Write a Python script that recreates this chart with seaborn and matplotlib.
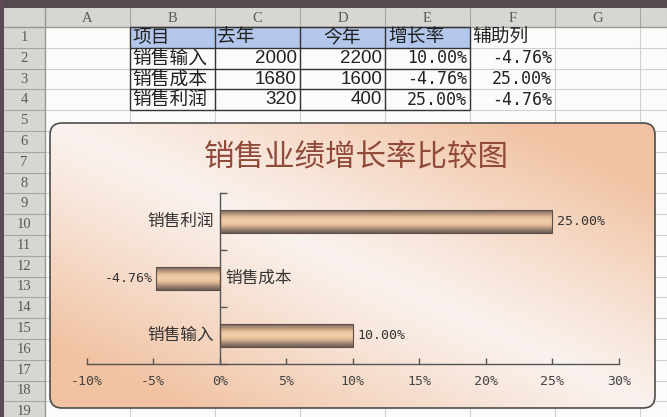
import numpy as np
import matplotlib
matplotlib.use("Agg")
import matplotlib.pyplot as plt
from matplotlib.patches import Rectangle, FancyBboxPatch
from matplotlib.colors import LinearSegmentedColormap, to_rgb
import seaborn as sns

# ── Sheet data ─────────────────────────────────────────────────────────────
col_letters = ["A", "B", "C", "D", "E", "F", "G"]
headers = ["项目", "去年", "今年", "增长率", "辅助列"]
items = ["销售输入", "销售成本", "销售利润"]
last_year = [2000, 1680, 320]
this_year = [2200, 1600, 400]
growth = [10.00, -4.76, 25.00]
helper = [-4.76, 25.00, -4.76]
x_ticks = [-10, -5, 0, 5, 10, 15, 20, 25, 30]
title = "销售业绩增长率比较图"

MONO = ["DejaVu Sans Mono"]
SERIF = ["Liberation Serif"]

sns.set_theme(style="white")
plt.rcParams["font.family"] = ["Noto Sans CJK SC", "DejaVu Sans"]

W, H = 667, 417
fig = plt.figure(figsize=(W / 100, H / 100), dpi=100)
fig.patch.set_facecolor("white")

# ── Spreadsheet background (pixel coordinates) ─────────────────────────────
bg = fig.add_axes([0, 0, 1, 1])
bg.axis("off")

col_edges = [45, 130, 215, 300, 385, 470, 555, 640]
row_top, row_h, n_rows = 27, 20.8, 19
row_edges = [row_top + row_h * k for k in range(n_rows + 1)]

bg.add_patch(Rectangle((45, row_top), W - 45, H - row_top, fc="#fbfbfa", ec="none"))
for x in col_edges[1:] + [W]:
    bg.vlines(x, row_top, H, color="#d0d0d0", lw=0.8)
for y in row_edges[1:]:
    bg.hlines(y, 45, W, color="#d0d0d0", lw=0.8)

# headers
bg.add_patch(Rectangle((4, 8), W - 4, row_top - 8, fc="#d8d6d2", ec="none"))
bg.add_patch(Rectangle((4, row_top), 41, H - row_top, fc="#d8d6d2", ec="none"))
for x in col_edges + [W]:
    bg.vlines(x, 8, row_top, color="#a6a4a0", lw=0.8)
for y in row_edges:
    bg.hlines(y, 4, 45, color="#a6a4a0", lw=0.8)
bg.hlines(row_top, 4, W, color="#9a9894", lw=1)
bg.vlines(45, 8, H, color="#9a9894", lw=1)
for i, letter in enumerate(col_letters):
    bg.text((col_edges[i] + col_edges[i + 1]) / 2, 18, letter, ha="center",
            va="center", fontsize=10.5, family=SERIF, color="#5a5a5a")
for r in range(n_rows):
    bg.text(24, row_top + row_h * (r + 0.5), str(r + 1), ha="center",
            va="center", fontsize=10.5, family=SERIF, color="#5a5a5a")

# dark window strips
bg.add_patch(Rectangle((0, 0), W, 8, fc="#544a50", ec="none"))
bg.add_patch(Rectangle((0, 0), 4, H, fc="#5d4956", ec="none"))

# table B1:F4
bg.add_patch(Rectangle((130, row_top), 340, row_h, fc="#b3c7ec", ec="none"))
ry = lambda r: row_top + row_h * (r + 0.5)
head_pos = [(132, "left"), (217, "left"), (342, "center"), (388, "left"), (472, "left")]
for (hx, ha), txt in zip(head_pos, headers):
    bg.text(hx, ry(0), txt, ha=ha, va="center", fontsize=13.5, color="#222")
for r, (name, a, b, g, hp) in enumerate(zip(items, last_year, this_year, growth, helper), start=1):
    bg.text(132, ry(r), name, ha="left", va="center", fontsize=13.5, color="#222")
    bg.text(297, ry(r), f"{a}", ha="right", va="center", fontsize=13.5,
            family=["Liberation Sans"], color="#222")
    bg.text(382, ry(r), f"{b}", ha="right", va="center", fontsize=13.5,
            family=["Liberation Sans"], color="#222")
    bg.text(467, ry(r), f"{g:.2f}%", ha="right", va="center", fontsize=12,
            family=MONO, color="#222")
    bg.text(552, ry(r), f"{hp:.2f}%", ha="right", va="center", fontsize=12,
            family=MONO, color="#222")
for x in [130, 215, 300, 385, 470]:
    bg.vlines(x, row_top, row_top + 4 * row_h, color="#333", lw=1)
for y in row_edges[:5]:
    bg.hlines(y, 130, 470, color="#333", lw=1)

# ── Chart area with diagonal gradient ──────────────────────────────────────
bx0, by0, bw, bh = 50, 123, 605, 285
box = FancyBboxPatch((bx0, by0), bw, bh, boxstyle="round,pad=0,rounding_size=12",
                     fc="none", ec="#4d4d4d", lw=1.2, zorder=3)
bg.add_patch(box)
xn = np.linspace(0, 1, 300)[None, :]
yn = np.linspace(0, 1, 150)[:, None]
t = np.clip(np.abs(xn - yn) * 1.3, 0, 1) ** 1.1
light, peach = np.array(to_rgb("#faf2ee")), np.array(to_rgb("#f1c3a3"))
grad_img = light + (peach - light) * t[..., None]
im = bg.imshow(grad_img, extent=[bx0, bx0 + bw, by0 + bh, by0], aspect="auto",
               interpolation="bilinear", zorder=2)
im.set_clip_path(box)
bg.set_xlim(0, W)
bg.set_ylim(H, 0)

bg.text(356, 158, title, ha="center", va="center", fontsize=22,
        fontweight="normal", color="#914a3a", zorder=4)

# ── Bar chart ──────────────────────────────────────────────────────────────
ax = fig.add_axes([86.7 / W, (H - 364) / H, 532.3 / W, 171 / H])
ax.set_facecolor("none")

chart_cats = items[::-1]
chart_vals = growth[::-1]
chart_help = helper[::-1]

sns.barplot(x=chart_vals, y=chart_cats, orient="h", width=0.41,
            color="#eec5a0", edgecolor="#5e4e48", linewidth=0.8, ax=ax)

bar_cmap = LinearSegmentedColormap.from_list(
    "tube", ["#6b5b55", "#a88a76", "#e6bd98", "#f3d0ae", "#e6bd98", "#a88a76", "#6b5b55"])
tube = np.linspace(0, 1, 64).reshape(-1, 1)
for patch in ax.patches:
    x0, w = patch.get_x(), patch.get_width()
    y0, h = patch.get_y(), patch.get_height()
    img = ax.imshow(tube, extent=[min(x0, x0 + w), max(x0, x0 + w), y0 + h, y0],
                    aspect="auto", cmap=bar_cmap, interpolation="bicubic", zorder=2)
    img.set_clip_path(patch)
    patch.set_facecolor("none")
    patch.set_zorder(3)

ax.set_xlim(-10, 30)
ax.set_ylim(2.5, -0.5)

ax.bar_label(ax.containers[0], labels=[f"{v:.2f}%" for v in chart_vals],
             padding=3, fontsize=9.5, family=MONO, color="#333")

for i, (name, hv) in enumerate(zip(chart_cats, chart_help)):
    left = hv < 0
    ax.annotate(name, (0, i), xytext=(-4 if left else 4, 0), textcoords="offset points",
                ha="right" if left else "left", va="center", fontsize=12, color="#333")

for side in ["top", "right"]:
    ax.spines[side].set_visible(False)
ax.spines["left"].set_position(("data", 0))
for side in ["left", "bottom"]:
    ax.spines[side].set_color("#555")
    ax.spines[side].set_linewidth(1)

ax.set_yticks([-0.5, 0.5, 1.5, 2.5])
ax.set_yticklabels([])
ax.tick_params(axis="y", left=True, direction="in", length=5, width=1, color="#555")
ax.set_xticks(x_ticks, labels=[f"{v}%" for v in x_ticks], fontsize=9.5,
              family=MONO, color="#444")
ax.tick_params(axis="x", bottom=True, direction="in", length=4, width=1,
               color="#555", pad=8)
ax.set_xlabel("")
ax.set_ylabel("")
ax.grid(False)

fig.savefig("out.png", dpi=100)
